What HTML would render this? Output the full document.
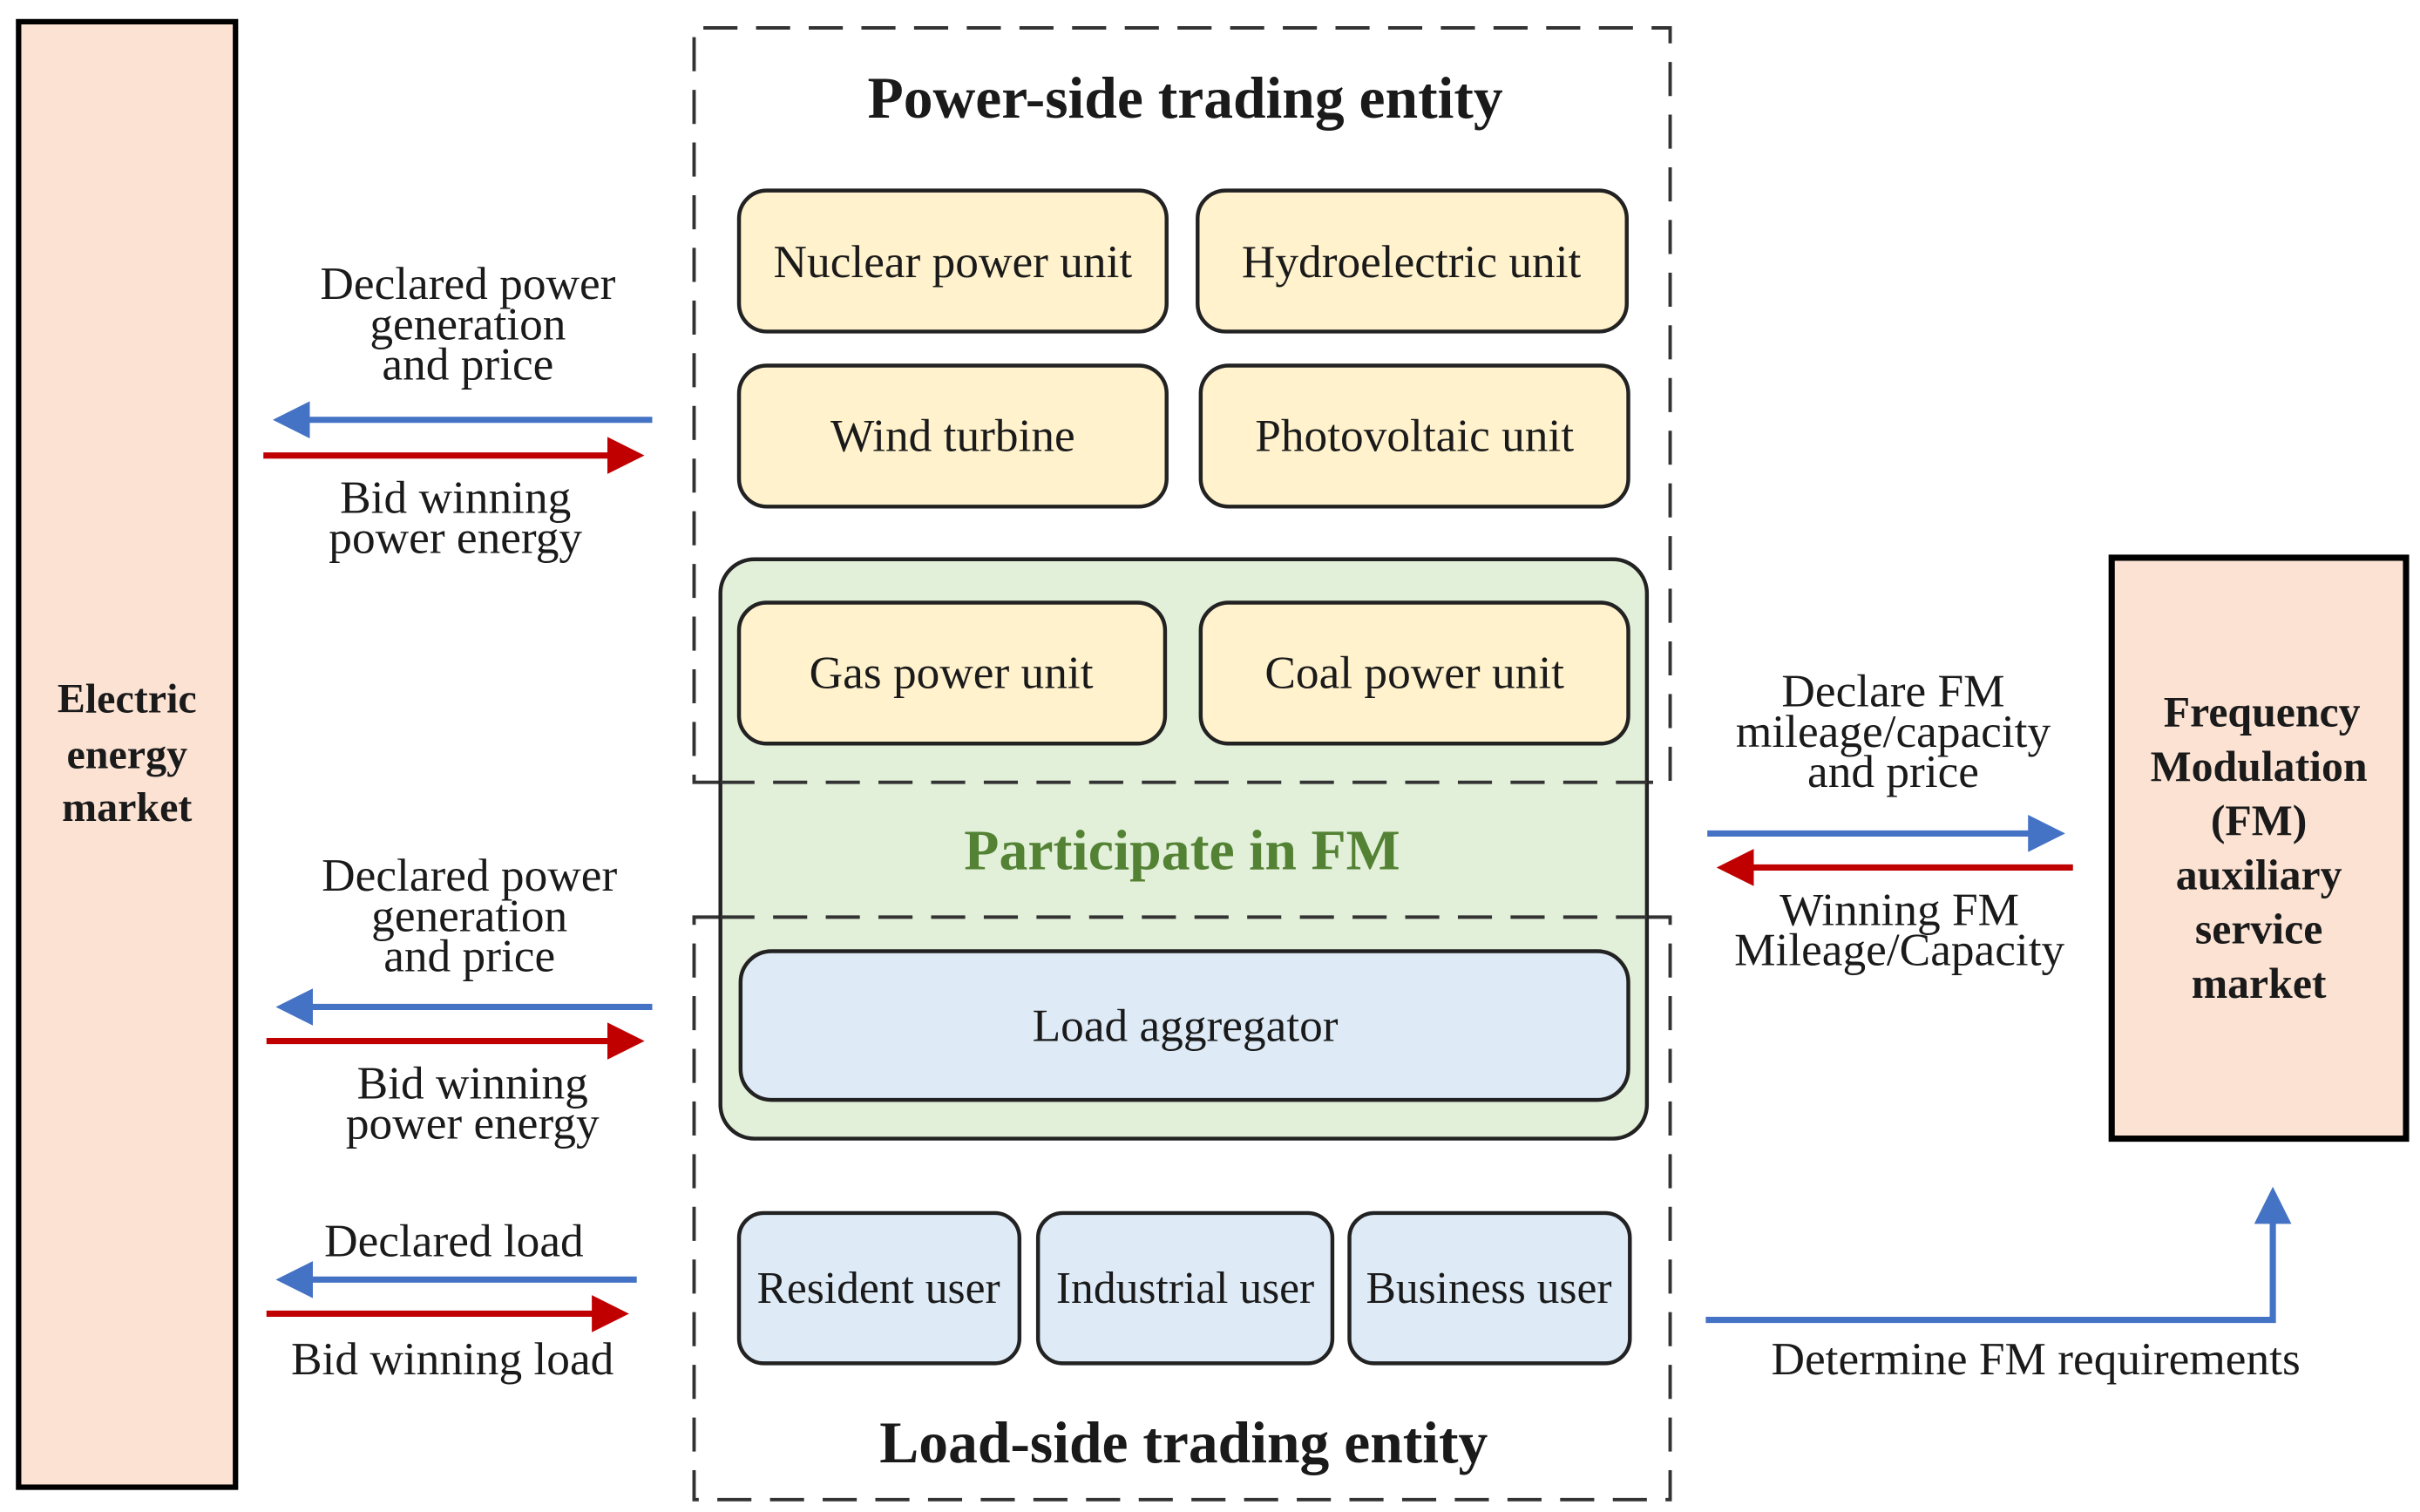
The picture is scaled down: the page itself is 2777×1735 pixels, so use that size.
<!DOCTYPE html>
<html><head><meta charset="utf-8"><style>
html,body{margin:0;padding:0;background:#fff;}
svg{display:block;}
text{font-family:"Liberation Serif",serif;fill:#1a1a1a;}
.t{font-size:30px;text-anchor:middle;}
.b{font-weight:bold;text-anchor:middle;}
</style></head><body>
<svg width="2777" height="1735" viewBox="0 0 1562 976" preserveAspectRatio="none" xmlns="http://www.w3.org/2000/svg">
<defs>
<marker id="ab" markerWidth="6" markerHeight="6" refX="5" refY="3" orient="auto" markerUnits="strokeWidth"><path d="M0,0 L6,3 L0,6 z" fill="#4472C4"/></marker>
<marker id="ar" markerWidth="6" markerHeight="6" refX="5" refY="3" orient="auto" markerUnits="strokeWidth"><path d="M0,0 L6,3 L0,6 z" fill="#C00000"/></marker>
</defs>
<rect x="12" y="14" width="140" height="946" fill="#FBE2D3" stroke="#000" stroke-width="3.5"/>
<text class="b" font-size="27" x="82" y="460">Electric</text>
<text class="b" font-size="27" x="82" y="496">energy</text>
<text class="b" font-size="27" x="82" y="530">market</text>
<g fill="none" stroke="#333" stroke-width="2.2" stroke-dasharray="22,12">
<path d="M465,505 L448,505 L448,18 L1078,18 L1078,505 L1063,505"/>
<path d="M465,592 L448,592 L448,968 L1078,968 L1078,592 L1063,592"/>
</g>
<text class="b" font-size="38" x="765" y="76">Power-side trading entity</text>
<g fill="#FFF2CC" stroke="#222" stroke-width="2.5">
<rect x="477" y="123" width="276" height="91" rx="18"/>
<rect x="773" y="123" width="277" height="91" rx="18"/>
<rect x="477" y="236" width="276" height="91" rx="18"/>
<rect x="775" y="236" width="276" height="91" rx="18"/>
</g>
<text class="t" x="615" y="179">Nuclear power unit</text>
<text class="t" x="911" y="179">Hydroelectric unit</text>
<text class="t" x="615" y="291">Wind turbine</text>
<text class="t" x="913" y="291">Photovoltaic unit</text>
<rect x="465" y="361" width="598" height="374" rx="22" fill="#E2F0D9" stroke="#222" stroke-width="2.5"/>
<g fill="#FFF2CC" stroke="#222" stroke-width="2.5">
<rect x="477" y="389" width="275" height="91" rx="18"/>
<rect x="775" y="389" width="276" height="91" rx="18"/>
</g>
<text class="t" x="614" y="444">Gas power unit</text>
<text class="t" x="913" y="444">Coal power unit</text>
<g stroke="#333" stroke-width="2.2" stroke-dasharray="22,12">
<line x1="465" y1="505" x2="1063" y2="505"/>
<line x1="465" y1="592" x2="1063" y2="592"/>
</g>
<text class="b" font-size="37" x="763" y="561" style="fill:#548235">Participate in FM</text>
<rect x="478" y="614" width="573" height="96" rx="20" fill="#DEEBF7" stroke="#222" stroke-width="2.5"/>
<text class="t" x="765" y="672">Load aggregator</text>
<g fill="#DEEBF7" stroke="#222" stroke-width="2.5">
<rect x="477" y="783" width="181" height="97" rx="16"/>
<rect x="670" y="783" width="190" height="97" rx="16"/>
<rect x="871" y="783" width="181" height="97" rx="16"/>
</g>
<text class="t" x="567" y="841" style="font-size:29px">Resident user</text>
<text class="t" x="765" y="841" style="font-size:29px">Industrial user</text>
<text class="t" x="961" y="841" style="font-size:29px">Business user</text>
<text class="b" font-size="38" x="764" y="944">Load-side trading entity</text>
<g stroke-width="4" fill="none">
<line x1="421" y1="271" x2="180" y2="271" stroke="#4472C4" marker-end="url(#ab)"/>
<line x1="170" y1="294" x2="412" y2="294" stroke="#C00000" marker-end="url(#ar)"/>
<line x1="421" y1="650" x2="182" y2="650" stroke="#4472C4" marker-end="url(#ab)"/>
<line x1="172" y1="672" x2="412" y2="672" stroke="#C00000" marker-end="url(#ar)"/>
<line x1="411" y1="826" x2="182" y2="826" stroke="#4472C4" marker-end="url(#ab)"/>
<line x1="172" y1="848" x2="402" y2="848" stroke="#C00000" marker-end="url(#ar)"/>
<line x1="1102" y1="538" x2="1329" y2="538" stroke="#4472C4" marker-end="url(#ab)"/>
<line x1="1338" y1="560" x2="1112" y2="560" stroke="#C00000" marker-end="url(#ar)"/>
<path d="M1101,852 L1467,852 L1467,770" stroke="#4472C4" marker-end="url(#ab)"/>
</g>
<text class="t" x="302" y="193">Declared power</text>
<text class="t" x="302" y="219">generation</text>
<text class="t" x="302" y="245">and price</text>
<text class="t" x="294" y="331">Bid winning</text>
<text class="t" x="294" y="357">power energy</text>
<text class="t" x="303" y="575">Declared power</text>
<text class="t" x="303" y="601">generation</text>
<text class="t" x="303" y="627">and price</text>
<text class="t" x="305" y="709">Bid winning</text>
<text class="t" x="305" y="735">power energy</text>
<text class="t" x="293" y="811">Declared load</text>
<text class="t" x="292" y="887">Bid winning load</text>
<text class="t" x="1222" y="456">Declare FM</text>
<text class="t" x="1222" y="482">mileage/capacity</text>
<text class="t" x="1222" y="508">and price</text>
<text class="t" x="1226" y="597">Winning FM</text>
<text class="t" x="1226" y="623">Mileage/Capacity</text>
<text class="t" x="1314" y="887">Determine FM requirements</text>
<rect x="1363" y="360" width="190" height="375" fill="#FBE2D3" stroke="#000" stroke-width="4"/>
<text class="b" font-size="28" x="1460" y="469">Frequency</text>
<text class="b" font-size="28" x="1458" y="504">Modulation</text>
<text class="b" font-size="28" x="1458" y="539">(FM)</text>
<text class="b" font-size="28" x="1458" y="574">auxiliary</text>
<text class="b" font-size="28" x="1458" y="609">service</text>
<text class="b" font-size="28" x="1458" y="644">market</text>
</svg>
</body></html>
